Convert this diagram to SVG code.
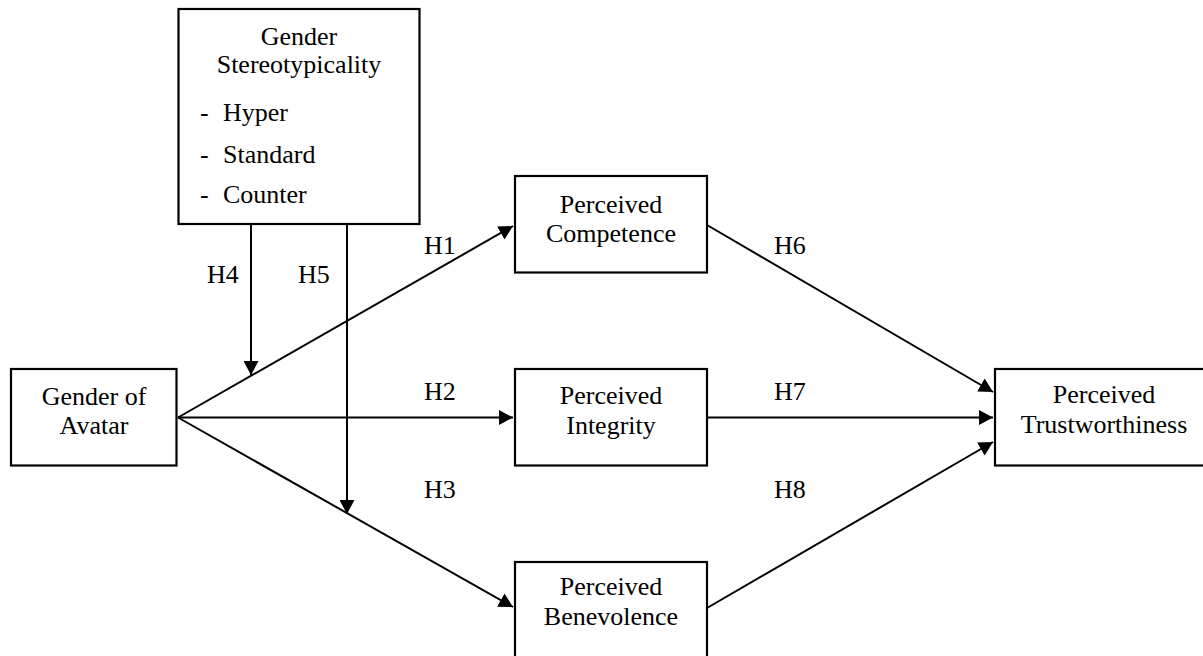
<svg xmlns="http://www.w3.org/2000/svg" width="1203" height="656" viewBox="0 0 1203 656">
<style>
.box{fill:#fff;stroke:#000;stroke-width:2.2}
.t{font-family:"Liberation Serif","Times New Roman",serif;font-size:26px;fill:#000}
.c{text-anchor:middle}
.ln{stroke:#000;stroke-width:2;fill:none}
</style>
<defs>
<marker id="ah" markerUnits="userSpaceOnUse" markerWidth="15" markerHeight="15" refX="14" refY="7.5" orient="auto">
<path d="M0,0 L14,7.5 L0,15 z" fill="#000"/>
</marker>
</defs>
<rect width="1203" height="656" fill="#fff"/>
<g id="connectors">
<line class="ln" x1="178" y1="417.5" x2="513" y2="226" marker-end="url(#ah)"/>
<line class="ln" x1="178" y1="417.5" x2="513" y2="417.5" marker-end="url(#ah)"/>
<line class="ln" x1="178" y1="417.5" x2="513" y2="607" marker-end="url(#ah)"/>
<line class="ln" x1="251" y1="224" x2="251" y2="375" marker-end="url(#ah)"/>
<line class="ln" x1="347" y1="224" x2="347" y2="514" marker-end="url(#ah)"/>
<line class="ln" x1="707" y1="225" x2="993" y2="392" marker-end="url(#ah)"/>
<line class="ln" x1="707" y1="417.5" x2="993" y2="417.5" marker-end="url(#ah)"/>
<line class="ln" x1="707" y1="608" x2="993" y2="442" marker-end="url(#ah)"/>
<text class="t" x="424" y="254">H1</text>
<text class="t" x="424" y="400">H2</text>
<text class="t" x="424" y="498">H3</text>
<text class="t" x="207" y="283">H4</text>
<text class="t" x="298" y="283">H5</text>
<text class="t" x="774" y="254">H6</text>
<text class="t" x="774" y="400">H7</text>
<text class="t" x="774" y="498">H8</text>
</g>
<g id="stereotypicality">
<rect class="box" x="178.5" y="9" width="241" height="215"/>
<text class="t c" x="299" y="45">Gender</text>
<text class="t c" x="299" y="73">Stereotypicality</text>
<text class="t" x="200" y="121">-</text><text class="t" x="223" y="121">Hyper</text>
<text class="t" x="200" y="163">-</text><text class="t" x="223" y="163">Standard</text>
<text class="t" x="200" y="203">-</text><text class="t" x="223" y="203">Counter</text>
</g>
<g id="avatar">
<rect class="box" x="11" y="369" width="165.5" height="96.5"/>
<text class="t c" x="94" y="405">Gender of</text>
<text class="t c" x="94" y="434">Avatar</text>
</g>
<g id="competence">
<rect class="box" x="515" y="176" width="192" height="96.5"/>
<text class="t c" x="611" y="213">Perceived</text>
<text class="t c" x="611" y="242">Competence</text>
</g>
<g id="integrity">
<rect class="box" x="515" y="369" width="192" height="96.5"/>
<text class="t c" x="611" y="404">Perceived</text>
<text class="t c" x="611" y="434">Integrity</text>
</g>
<g id="benevolence">
<rect class="box" x="515" y="562" width="192" height="100"/>
<text class="t c" x="611" y="595">Perceived</text>
<text class="t c" x="611" y="625">Benevolence</text>
</g>
<g id="trustworthiness">
<rect class="box" x="995" y="369" width="230" height="96.5"/>
<text class="t c" x="1104" y="403">Perceived</text>
<text class="t c" x="1104" y="433">Trustworthiness</text>
</g>
</svg>
